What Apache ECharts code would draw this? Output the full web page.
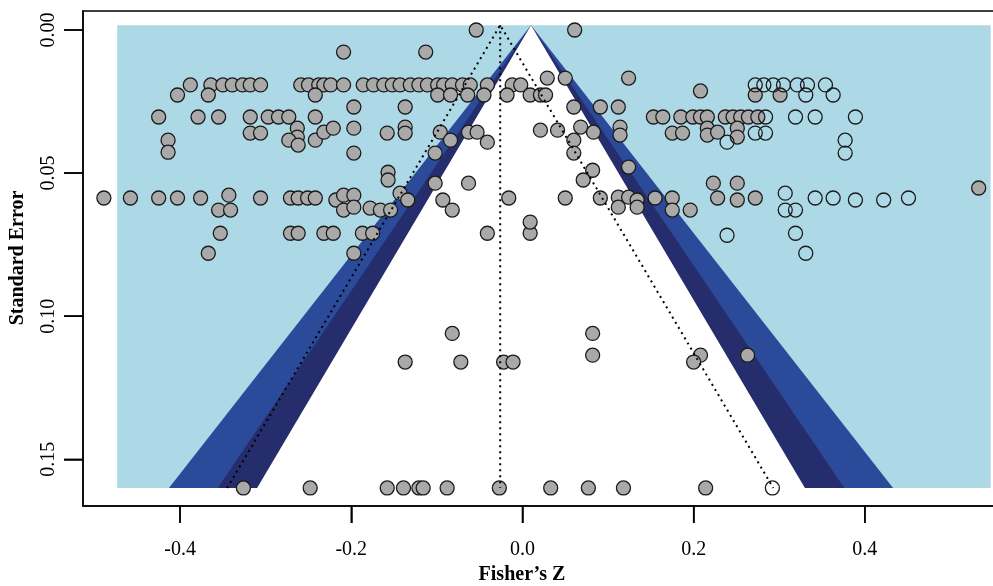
<!DOCTYPE html>
<html>
<head>
<meta charset="utf-8">
<title>Contour-enhanced funnel plot</title>
<script src="https://cdn.jsdelivr.net/npm/echarts@6/dist/echarts.min.js"></script>
<style>
  html, body { margin: 0; padding: 0; background: #fff; }
  #chart { width: 993px; height: 586px; }
  #err { position: absolute; left: 120px; top: 440px; font: 12px monospace; color: #c00; }
</style>
</head>
<body>
<div id="chart"></div>
<div id="err"></div>
<script>
// axis ticks
const xTicks = [-0.4, -0.2, 0.0, 0.2, 0.4];
const yTicks = [0.00, 0.05, 0.10, 0.15];
const xRange = [-0.5134, 0.5509];
const yRange = [-0.00664, 0.1663];

// shaded funnel region (standard error from top to bottom)
const seTop = -0.0017;
const seBottom = 0.16;
const shadeRange = [-0.4735, 0.547];
const contourCenter = 0.01;
// half widths at seBottom: p < .01, p < .025, p < .05 (outer to inner)
const contourHalfWidths = [0.423, 0.366, 0.320];
const contourColors = ['#2b4a9a', '#252d6c', '#ffffff'];

// pooled estimate and its 95% funnel
const pooledZ = -0.026;
const pooledHalfWidth = 0.319;

// observed studies [Fisher's Z, standard error]
const observed = [
  [-0.054, 0.000], [0.061, 0.000],
  [-0.209, 0.0077], [-0.113, 0.0077],
  [0.029, 0.0168], [0.050, 0.0168], [0.124, 0.0168],
  [-0.388, 0.0192], [-0.364, 0.0192], [-0.350, 0.0192], [-0.339, 0.0192], [-0.327, 0.0192],
  [-0.318, 0.0192], [-0.306, 0.0192], [-0.259, 0.0192], [-0.250, 0.0192], [-0.238, 0.0192],
  [-0.232, 0.0192], [-0.224, 0.0192], [-0.209, 0.0192], [-0.186, 0.0192], [-0.174, 0.0192],
  [-0.162, 0.0192], [-0.152, 0.0192], [-0.143, 0.0192], [-0.131, 0.0192], [-0.121, 0.0192],
  [-0.111, 0.0192], [-0.099, 0.0192], [-0.092, 0.0192], [-0.082, 0.0192], [-0.070, 0.0192],
  [-0.061, 0.0192], [-0.041, 0.0192], [-0.012, 0.0192], [-0.002, 0.0192],
  [0.208, 0.0213],
  [-0.403, 0.0227], [-0.367, 0.0227], [-0.242, 0.0227], [-0.099, 0.0227], [-0.084, 0.0227],
  [-0.064, 0.0227], [-0.045, 0.0227], [-0.018, 0.0227], [0.009, 0.0227], [0.021, 0.0227],
  [0.027, 0.0227], [0.272, 0.0227], [0.301, 0.0227],
  [-0.197, 0.0269], [-0.137, 0.0269], [0.060, 0.0269], [0.091, 0.0269], [0.112, 0.0269],
  [-0.425, 0.0304], [-0.379, 0.0304], [-0.355, 0.0304], [-0.318, 0.0304], [-0.297, 0.0304],
  [-0.285, 0.0304], [-0.273, 0.0304], [-0.242, 0.0304], [0.153, 0.0304], [0.164, 0.0304],
  [0.185, 0.0304], [0.199, 0.0304], [0.208, 0.0304], [0.216, 0.0304], [0.237, 0.0304],
  [0.246, 0.0304], [0.255, 0.0304], [0.264, 0.0304], [0.275, 0.0304],
  [-0.263, 0.0343], [-0.263, 0.0374], [-0.273, 0.0385], [-0.262, 0.0402], [-0.242, 0.0385],
  [-0.232, 0.0357], [-0.221, 0.0343], [-0.197, 0.0343], [-0.318, 0.036], [-0.306, 0.036],
  [-0.158, 0.036], [-0.137, 0.0339], [-0.137, 0.036], [-0.096, 0.0357], [-0.084, 0.0385],
  [-0.063, 0.0357], [-0.053, 0.0357], [-0.041, 0.0392],
  [0.021, 0.035], [0.041, 0.035], [0.068, 0.0339], [0.083, 0.0357], [0.114, 0.0339],
  [0.114, 0.0367], [0.175, 0.036], [0.187, 0.036], [0.216, 0.0343], [0.216, 0.0367],
  [0.228, 0.0357], [0.251, 0.0343], [0.251, 0.0374],
  [-0.414, 0.0385], [-0.414, 0.0427], [-0.197, 0.043], [-0.102, 0.043], [0.060, 0.0385], [0.060, 0.043],
  [-0.157, 0.0497], [-0.157, 0.0524], [-0.102, 0.0535], [-0.063, 0.0535], [0.124, 0.0479],
  [0.082, 0.049], [0.071, 0.0524], [0.223, 0.0535], [0.251, 0.0535], [0.533, 0.0552],
  [-0.489, 0.0587], [-0.458, 0.0587], [-0.425, 0.0587], [-0.403, 0.0587], [-0.376, 0.0587],
  [-0.343, 0.0577], [-0.306, 0.0587], [-0.271, 0.0587], [-0.262, 0.0587], [-0.251, 0.0587],
  [-0.242, 0.0587], [-0.218, 0.0594], [-0.209, 0.0577], [-0.197, 0.0577], [-0.143, 0.057],
  [-0.134, 0.0594], [-0.016, 0.0587], [-0.093, 0.0594],
  [0.050, 0.0587], [0.091, 0.0587], [0.112, 0.0584], [0.124, 0.0584], [0.134, 0.0594],
  [0.155, 0.0587], [0.175, 0.0587], [0.228, 0.0587], [0.251, 0.0594], [0.272, 0.0587],
  [-0.355, 0.0629], [-0.341, 0.0629], [-0.209, 0.0629], [-0.197, 0.0619], [-0.178, 0.0622],
  [-0.166, 0.0629], [-0.154, 0.0629], [-0.082, 0.0629],
  [0.112, 0.0619], [0.134, 0.0619], [0.175, 0.0629], [0.196, 0.0629],
  [-0.353, 0.071], [-0.271, 0.071], [-0.262, 0.071], [-0.232, 0.071], [-0.221, 0.071],
  [-0.187, 0.071], [-0.175, 0.071], [-0.041, 0.071], [0.009, 0.071], [0.009, 0.0671],
  [-0.367, 0.078], [-0.197, 0.078],
  [-0.082, 0.106], [0.082, 0.106],
  [0.082, 0.1136], [0.208, 0.1136], [0.263, 0.1136],
  [-0.137, 0.116], [-0.072, 0.116], [-0.022, 0.116], [-0.011, 0.116], [0.200, 0.116],
  [-0.326, 0.16], [-0.248, 0.16], [-0.158, 0.16], [-0.139, 0.16], [-0.121, 0.16],
  [-0.116, 0.16], [-0.088, 0.16], [-0.027, 0.16], [0.033, 0.16], [0.077, 0.16],
  [0.118, 0.16], [0.214, 0.16]
];

// imputed (trim-and-fill) studies
const imputed = [
  [0.272, 0.0192], [0.282, 0.0192], [0.293, 0.0192], [0.305, 0.0192], [0.321, 0.0192],
  [0.333, 0.0192], [0.354, 0.0192],
  [0.331, 0.0227], [0.363, 0.0227],
  [0.284, 0.0304], [0.319, 0.0304], [0.342, 0.0304], [0.389, 0.0304],
  [0.272, 0.036], [0.284, 0.036], [0.239, 0.0392], [0.377, 0.0385], [0.377, 0.043],
  [0.307, 0.057], [0.342, 0.0587], [0.363, 0.0587], [0.389, 0.0594], [0.422, 0.0594], [0.451, 0.0587],
  [0.307, 0.0629], [0.319, 0.0629],
  [0.239, 0.0717], [0.319, 0.071], [0.331, 0.078],
  [0.292, 0.16]
];

const regions = [
  { color: '#add8e6', pts: [[shadeRange[0], seTop], [shadeRange[1], seTop], [shadeRange[1], seBottom], [shadeRange[0], seBottom]] }
].concat(contourHalfWidths.map((hw, i) => ({
  color: contourColors[i],
  pts: [[contourCenter, seTop], [contourCenter + hw, seBottom], [contourCenter - hw, seBottom]]
})));

const serif = 'Liberation Serif';
const errBox = document.getElementById('err');
const report = msg => { errBox.textContent += msg + ' | '; };
window.addEventListener('error', e => report('W:' + e.message));

const chart = echarts.init(document.getElementById('chart'));

try {
  chart.setOption({
    animation: false,
    grid: { left: 83, top: 11, width: 911, height: 495, outerBoundsMode: 'none',
      show: true, borderColor: '#000', borderWidth: 1.5 },
    xAxis: {
      type: 'value', min: xRange[0], max: xRange[1],
      axisLine: { show: true, onZero: false, lineStyle: { color: '#000', width: 1.5 } },
      axisTick: { show: true, length: 17, customValues: xTicks, lineStyle: { color: '#000', width: 1.5 } },
      axisLabel: { customValues: xTicks, margin: 34, fontFamily: serif, fontSize: 20, color: '#000',
        formatter: v => v.toFixed(1) },
      splitLine: { show: false }
    },
    yAxis: {
      type: 'value', inverse: true, min: yRange[0], max: yRange[1],
      axisLine: { show: true, onZero: false, lineStyle: { color: '#000', width: 1.5 } },
      axisTick: { show: true, length: 19, customValues: yTicks, lineStyle: { color: '#000', width: 1.5 } },
      axisLabel: { customValues: yTicks, rotate: 90, margin: 24, fontFamily: serif, fontSize: 20, color: '#000',
        formatter: v => v.toFixed(2) },
      splitLine: { show: false }
    },
    series: [
      {
        type: 'custom',
        data: regions.map((r, i) => [i]),
        renderItem: (params, api) => {
          const r = regions[params.dataIndex];
          return { type: 'polygon', shape: { points: r.pts.map(p => api.coord(p)) }, style: { fill: r.color } };
        }
      },
      {
        type: 'line', showSymbol: false,
        data: [[pooledZ - pooledHalfWidth, seBottom], [pooledZ, seTop], [pooledZ + pooledHalfWidth, seBottom]],
        lineStyle: { color: '#000', width: 2, type: [2, 4] }
      },
      {
        type: 'line', showSymbol: false,
        data: [[pooledZ, seTop], [pooledZ, seBottom]],
        lineStyle: { color: '#000', width: 2, type: [2, 4] }
      },
      {
        type: 'scatter', symbol: 'circle', symbolSize: 14,
        data: observed,
        itemStyle: { color: '#a9a9a9', borderColor: '#1a1a1a', borderWidth: 1.3, opacity: 1 }
      },
      {
        type: 'scatter', symbol: 'circle', symbolSize: 14,
        data: imputed,
        itemStyle: { color: 'rgba(0,0,0,0)', borderColor: '#1a1a1a', borderWidth: 1.3, opacity: 1 }
      }
    ]
  });
} catch (e) {
  report('A:' + e.message);
}

// axis titles and outward tick marks
try {
  const extras = [
    { type: 'text', x: 522, y: 575, silent: true,
      style: { text: 'Fisher’s Z', font: 'bold 20px "Liberation Serif"', fill: '#000',
        align: 'center', verticalAlign: 'middle', textAlign: 'center', textVerticalAlign: 'middle' } },
    { type: 'text', x: 18, y: 258, rotation: Math.PI / 2, silent: true,
      style: { text: 'Standard Error', font: 'bold 20px "Liberation Serif"', fill: '#000',
        align: 'center', verticalAlign: 'middle', textAlign: 'center', textVerticalAlign: 'middle' } }
  ];
  xTicks.forEach(v => {
    const p = chart.convertToPixel({ xAxisIndex: 0, yAxisIndex: 0 }, [v, yRange[1]]);
    extras.push({ type: 'rect', silent: true, shape: { x: p[0] - 0.75, y: p[1], width: 1.5, height: 17 },
      style: { fill: '#000' } });
  });
  yTicks.forEach(v => {
    const p = chart.convertToPixel({ xAxisIndex: 0, yAxisIndex: 0 }, [xRange[0], v]);
    extras.push({ type: 'rect', silent: true, shape: { x: p[0] - 19, y: p[1] - 0.75, width: 19, height: 1.5 },
      style: { fill: '#000' } });
  });
  chart.setOption({ graphic: extras });
} catch (e) {
  report('B:' + e.message);
}
</script>
</body>
</html>
